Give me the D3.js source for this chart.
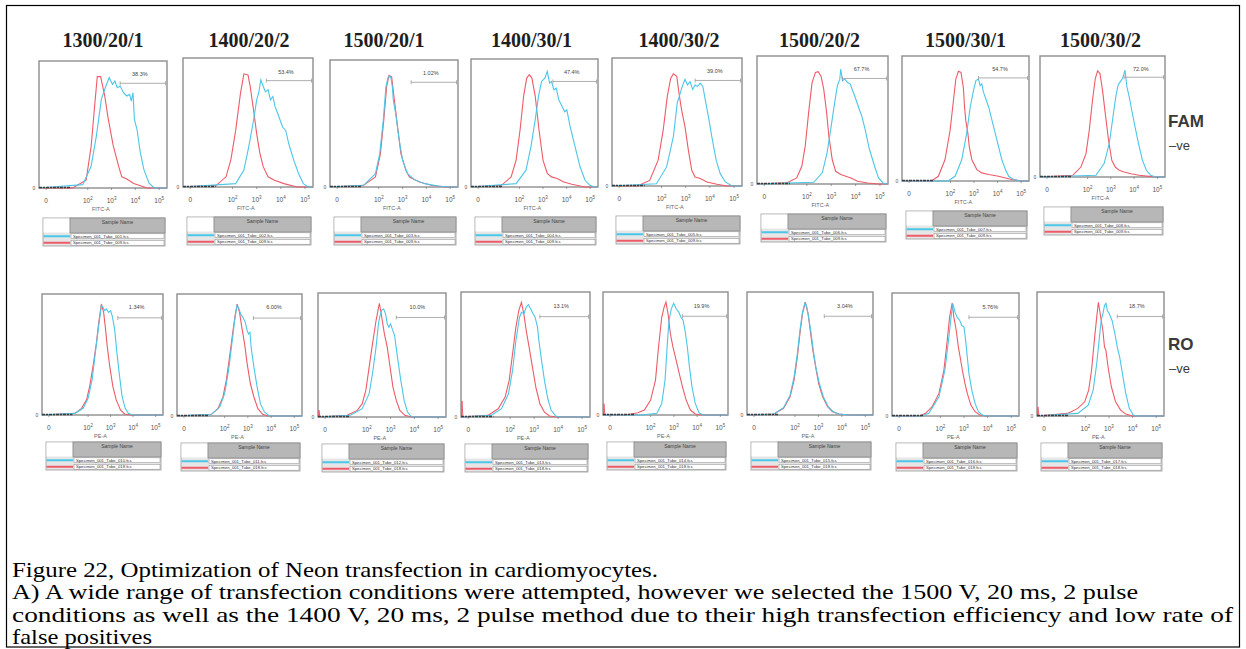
<!DOCTYPE html>
<html><head><meta charset="utf-8">
<script src="https://cdn.jsdelivr.net/npm/d3@7"></script>
<style>body{margin:0;background:#fff}svg{display:block}</style>
</head><body>
<svg id="c" width="1246" height="649"></svg>
<script>
// ---------------- DATA ----------------
const conditions = ["1300/20/1","1400/20/2","1500/20/1","1400/30/1","1400/30/2","1500/20/2","1500/30/1","1500/30/2"];
const famPct = ["38.3%","53.4%","1.02%","47.4%","39.0%","67.7%","54.7%","72.0%"];
const roPct  = ["1.34%","6.00%","10.0%","13.1%","19.9%","3.04%","5.76%","18.7%"];
const famGateStart = [3.36,3.40,3.36,3.42,3.39,3.46,3.19,3.57];
const roGateStart  = [3.32,3.24,3.24,3.24,3.37,3.25,3.21,3.35];
const famTubes = ["001","002","003","004","005","006","007","008"];
const famControl = "009";
const roTubes = ["010","011","012","013","014","015","016","017"];
const roControl = "018";
const tickPos = [0.25,2,3,4,5];
const tickExp = [null,2,3,4,5];
const rowMarkers = [["FAM","–ve"],["RO","–ve"]];
const captionLines = [
  "Figure 22, Optimization of Neon transfection in cardiomyocytes.",
  "A) A wide range of transfection conditions were attempted, however we selected the 1500 V, 20 ms, 2 pulse",
  "conditions as well as the 1400 V, 20 ms, 2 pulse method due to their high transfection efficiency and low rate of",
  "false positives"
];
// histograms: [log-decade position, relative count]
const famRed = [
 [[1.36,0],[1.93,7],[2.14,37],[2.29,74],[2.4,100],[2.54,100],[2.71,83],[2.86,62],[3.07,38],[3.29,20],[3.43,10],[3.64,8],[3.93,4],[4.5,0]],
 [[1.33,1.5],[1.73,9],[1.93,24],[2.13,50],[2.33,83],[2.47,100],[2.64,99],[2.73,89],[2.87,68],[3,47],[3.13,30],[3.27,18],[3.47,9],[3.73,6],[4.13,3],[4.67,0]],
 [[1.36,1.5],[1.86,9],[2.07,30],[2.21,60],[2.33,90],[2.43,100],[2.54,99],[2.64,81],[2.79,54],[2.93,30],[3.14,15],[3.29,9],[3.43,7.5],[3.71,4.5],[4.21,1.5],[4.79,0]],
 [[1.24,1.5],[1.65,9],[1.86,24],[2.03,51],[2.18,81],[2.31,97],[2.42,100],[2.53,97],[2.67,81],[2.83,51],[3,24],[3.18,12],[3.36,9],[3.6,7.5],[3.88,4.5],[4.22,2.4],[4.78,0]],
 [[1.0,0],[1.51,5],[1.86,23],[2.07,50],[2.24,80],[2.38,96],[2.49,100],[2.63,97.6],[2.74,80],[2.83,67.8],[2.97,52.8],[3.11,32],[3.25,14],[3.39,8],[3.6,6.6],[3.88,3.6],[4.29,1.5],[4.71,0]],
 [[1.17,1],[1.58,5.4],[1.79,15.8],[1.93,33.7],[2.07,63.6],[2.21,90],[2.35,99.4],[2.46,100],[2.58,96],[2.69,84.5],[2.81,63.6],[2.9,42.7],[3.04,21.8],[3.18,11.3],[3.39,8.4],[3.6,6.9],[3.81,5.4],[4.08,2.4],[4.5,0.9],[4.92,0]],
 [[1.2,0],[1.49,4.3],[1.77,19.4],[1.99,46.5],[2.13,73.6],[2.23,93],[2.34,100],[2.45,99],[2.55,85],[2.6,67.5],[2.65,55.5],[2.74,43.5],[2.8,31.4],[2.91,19.4],[3.12,10.4],[3.33,7.4],[3.62,6],[4.04,4.4],[4.6,1.4],[5.02,0]],
 [[1.36,1.6],[1.71,9.4],[1.93,22],[2.07,44],[2.21,72.3],[2.33,92.8],[2.43,100],[2.53,97.5],[2.64,81.8],[2.76,59.7],[2.9,34.6],[3.04,15.7],[3.19,9.4],[3.36,6.3],[3.57,4.7],[3.86,3.1],[4.21,1.6],[4.64,0.6],[4.93,0]]
];
const famCyan = [
 [[1.79,3],[2.14,19.5],[2.36,46.5],[2.57,79.6],[2.76,91.6],[2.9,99],[3.04,93],[3.14,96],[3.24,90],[3.36,91.6],[3.5,85.6],[3.64,82.6],[3.76,84],[3.83,78],[3.9,85.6],[3.96,61.6],[4.07,52.5],[4.21,31.5],[4.36,16.5],[4.57,4.5],[4.79,0]],
 [[2.13,3],[2.47,15],[2.67,35.5],[2.87,59],[3,77],[3.09,84],[3.17,94.7],[3.27,89],[3.36,84],[3.47,86],[3.57,77],[3.67,80],[3.76,71],[3.87,65],[4.07,53],[4.2,50],[4.33,38],[4.53,24],[4.73,12],[4.93,3],[5.13,0]],
 [[1.36,1.5],[1.86,12],[2.04,30],[2.19,60],[2.3,90],[2.39,98.5],[2.5,99],[2.57,90],[2.61,78],[2.71,66],[2.86,42],[3,24],[3.21,12],[3.5,6.6],[3.93,3],[4.5,0.9],[4.93,0]],
 [[1.86,3],[2.28,15],[2.49,36],[2.67,60],[2.81,81],[2.94,94],[3.08,97],[3.18,103],[3.28,92.5],[3.36,94],[3.46,86.6],[3.56,88],[3.67,77.6],[3.81,71.6],[3.92,67],[4.01,68.7],[4.15,53.7],[4.36,35.8],[4.57,18],[4.78,6],[4.99,1.5],[5.19,0]],
 [[1.79,2],[2.21,17],[2.49,44],[2.65,74],[2.74,80],[2.83,87],[2.97,95],[3.07,90],[3.18,93],[3.29,86],[3.39,90],[3.49,88.7],[3.6,91.6],[3.71,88.7],[3.81,76.7],[3.94,61.8],[4.08,44],[4.26,23],[4.43,11],[4.64,3.6],[4.92,0]],
 [[2.28,1.5],[2.63,10],[2.83,28],[3,52],[3.14,72.5],[3.25,87.5],[3.35,93.4],[3.39,102.4],[3.46,92],[3.56,93.4],[3.67,90.4],[3.78,89],[3.88,83],[4.01,75.5],[4.15,66.6],[4.25,60.6],[4.39,48.7],[4.57,30.7],[4.78,15.8],[4.94,5.4],[5.13,0.9],[5.3,0]],
 [[1.9,0],[2.2,4.3],[2.48,19.4],[2.69,43.5],[2.84,67.5],[2.98,82.6],[3.08,91.6],[3.19,93],[3.26,87],[3.33,88.6],[3.4,81],[3.5,75],[3.62,67.5],[3.76,55.5],[3.9,43.5],[4.04,31.4],[4.18,19.4],[4.33,10.4],[4.47,4.3],[4.68,1.4],[4.97,0]],
 [[2.36,1.6],[2.71,12.6],[2.93,31.4],[3.07,53.5],[3.21,75.5],[3.31,86.5],[3.4,89.6],[3.5,92.8],[3.57,97.5],[3.61,100.6],[3.69,84.9],[3.79,75.5],[3.9,62.9],[4.04,47.2],[4.19,31.4],[4.36,15.7],[4.53,6.3],[4.71,1.6],[4.93,0]]
];
const roRed = [
 [[1.41,1.5],[1.71,6],[1.93,13.6],[2.07,25.8],[2.22,44],[2.37,65],[2.47,83],[2.59,100],[2.69,92.4],[2.76,80.3],[2.85,62],[2.96,44],[3.1,25.8],[3.25,13.6],[3.44,4.5],[3.62,0.9],[3.91,0]],
 [[1.43,1.5],[1.71,6.5],[1.93,17],[2.07,31.8],[2.21,52.5],[2.36,76.3],[2.46,91],[2.54,100],[2.64,92.6],[2.74,79.2],[2.86,64.4],[2.97,46.6],[3.11,28.8],[3.26,17],[3.43,6.5],[3.64,1.5],[3.86,0]],
 [[1.17,1.5],[1.6,5.8],[1.81,11.7],[1.96,23.4],[2.1,43.9],[2.24,64.3],[2.39,84.8],[2.53,100],[2.63,87.7],[2.74,73.1],[2.86,61.4],[2.96,46.8],[3.1,26.3],[3.24,14.6],[3.39,5.8],[3.6,1.5],[3.89,0]],
 [[1.07,1.4],[1.5,7.2],[1.79,17.4],[1.96,31.9],[2.1,55],[2.24,78.3],[2.36,92.8],[2.47,100],[2.57,89.9],[2.67,75.4],[2.79,60.9],[2.93,43.5],[3.07,26.1],[3.24,11.6],[3.43,4.3],[3.64,0.9],[3.93,0]],
 [[0.9,0],[1.45,2],[1.73,4.4],[2,13.2],[2.21,30.9],[2.34,60.3],[2.48,86.8],[2.58,95.6],[2.66,100],[2.75,89.7],[2.85,72],[2.96,60.3],[3.1,48.5],[3.23,36.8],[3.37,25],[3.53,13.2],[3.71,4.4],[3.92,0.9],[4.19,0]],
 [[1.1,0.9],[1.51,5.9],[1.79,16.2],[1.96,30.9],[2.1,51.5],[2.21,72],[2.32,89.7],[2.44,100],[2.56,89.7],[2.65,75],[2.76,57.4],[2.88,42.6],[3.01,27.9],[3.18,16.2],[3.39,7.4],[3.6,2.9],[3.88,0.9],[4.29,0]],
 [[1.1,0],[1.37,2.4],[1.65,8.2],[1.94,20],[2.15,40.6],[2.29,67],[2.39,87.6],[2.5,100],[2.57,87.6],[2.67,76],[2.76,61.2],[2.86,49.4],[2.93,40.6],[3.04,28.9],[3.14,20],[3.29,9.7],[3.47,3.8],[3.67,0.9],[3.92,0]],
 [[1.25,2.3],[1.68,6.7],[1.97,12.5],[2.14,22.7],[2.26,40.2],[2.38,66.5],[2.48,86.9],[2.55,100],[2.65,86.9],[2.74,75.2],[2.81,60.6],[2.87,57.7],[2.96,43.1],[3.1,25.7],[3.28,12.5],[3.49,5.2],[3.71,1.7],[4,0]]
];
const roCyan = [
 [[1.41,1.5],[1.78,6],[2,15],[2.18,31.8],[2.32,56],[2.47,80.3],[2.59,98.5],[2.66,97],[2.74,94],[2.81,95.5],[2.91,92.4],[3,94],[3.07,89.4],[3.18,77.3],[3.28,56],[3.4,34.8],[3.51,16.7],[3.65,6],[3.79,1.5],[3.99,0]],
 [[1.43,1.5],[1.79,8],[2,19.9],[2.17,40.7],[2.31,64.4],[2.43,85.2],[2.53,98.5],[2.6,97],[2.69,91],[2.79,88],[2.89,83.7],[2.97,76.3],[3.03,73.3],[3.09,74.8],[3.14,61.4],[3.26,43.6],[3.4,25.8],[3.54,11],[3.71,3.6],[3.93,0]],
 [[1.31,1.5],[1.81,7.3],[2.1,20.5],[2.24,38],[2.39,61.4],[2.49,81.9],[2.57,90.6],[2.64,94.2],[2.71,95],[2.79,90.6],[2.86,81.9],[2.93,78.9],[3,81.9],[3.07,77.5],[3.17,71.6],[3.29,52.6],[3.43,32.2],[3.57,14.6],[3.71,4.4],[3.89,0]],
 [[1.21,1.4],[1.64,7.2],[1.93,20.3],[2.1,40.6],[2.24,66.7],[2.39,87],[2.47,91.3],[2.57,89.9],[2.67,95.7],[2.76,98],[2.86,94.2],[2.96,89.9],[3.04,87],[3.14,78.3],[3.19,68.1],[3.29,52.2],[3.43,31.9],[3.57,15.9],[3.71,5.8],[3.9,0.9],[4.07,0]],
 [[1.6,0],[2.27,1.5],[2.48,10.3],[2.62,30.9],[2.71,60.3],[2.79,83.8],[2.89,94.1],[2.99,99],[3.1,94.1],[3.21,91.2],[3.3,86.8],[3.4,83.8],[3.48,75],[3.58,60.3],[3.67,42.6],[3.78,25],[3.92,10.3],[4.08,2],[4.26,0]],
 [[1.1,0.9],[1.51,6.5],[1.79,17.6],[1.96,33.8],[2.1,54.4],[2.21,75],[2.32,91.2],[2.42,99],[2.49,97],[2.58,86.8],[2.68,73.5],[2.79,55.9],[2.9,41.2],[3.04,27.9],[3.21,16.2],[3.42,7.4],[3.63,2.9],[3.88,0.9],[4.29,0]],
 [[1.2,0],[1.51,2.4],[1.94,17],[2.19,40.6],[2.36,70],[2.47,90.6],[2.53,99.4],[2.62,92],[2.71,87.6],[2.82,84.7],[2.9,80.3],[3,78.8],[3.07,67],[3.14,52.3],[3.21,37.6],[3.33,22.9],[3.47,11.2],[3.61,3.8],[3.78,0.9],[3.99,0]],
 [[1.68,2.3],[2.12,9.6],[2.33,22.7],[2.48,46.1],[2.58,66.5],[2.67,84],[2.74,89.8],[2.81,97.1],[2.87,99.1],[2.93,92.7],[3.01,89.8],[3.13,84],[3.25,72.3],[3.35,60.6],[3.45,51.9],[3.57,37.3],[3.71,19.8],[3.86,6.7],[4.03,0.9],[4.22,0]]
];
const roSpike = [0,0,6,14,10,0,0,8];

// ---------------- LAYOUT ----------------
const famBoxes = [[39,61,167,188],[183,58,313,187],[330,60,458,187],[471,59,598,187],[612,58,742,186],[757,56,888,184],[902,56,1029,181],[1040,56,1165,177]];
const roBoxes  = [[42,294,163,415],[177,294,302,416],[318,293,446,417],[461,292,590,417],[603,292,728,415],[747,292,873,415],[892,293,1019,416],[1037,292,1164,416]];
const titleDx = [0,1,-10,-3,2,-3,0,-2];
const captionBase = [577,599,622,644];
const captionWidth = [646,1126,1221,140];
const CYAN = "#4cc6e8", RED = "#ee5b68";
const XD = [-0.05, 5.33];
const SANS = "'Liberation Sans', Arial, sans-serif";
const SERIF = "'Liberation Serif', 'Times New Roman', serif";

const svg = d3.select("#c");
svg.append("rect").attr("width",1246).attr("height",649).attr("fill","#fff");
svg.append("rect").attr("x",6.5).attr("y",5.5).attr("width",1233).attr("height",641.5)
   .attr("fill","none").attr("stroke","#000").attr("stroke-width",1.2);
const defs = svg.append("defs");

function drawPanel(idx, box, red, cyan, gStart, pct, cfg, tube, spike) {
  const [L,T,R,B] = box;
  const x = d3.scaleLinear().domain(XD).range([L,R]);
  const y = d3.scaleLinear().domain([0,cfg.yMax]).range([B,T]);
  const id = "clip"+cfg.key+idx;
  defs.append("clipPath").attr("id",id).append("rect").attr("x",L).attr("y",T).attr("width",R-L).attr("height",B-T+1);
  const g = svg.append("g");
  g.append("rect").attr("x",L).attr("y",T).attr("width",R-L).attr("height",B-T)
    .attr("fill","#fff").attr("stroke","#8e8e8e").attr("stroke-width",1.4);
  const line = d3.line().x(d=>x(d[0])).y(d=>y(d[1]));
  const ext = d => [[XD[0],0]].concat(d,[[XD[1],0]]);
  const cg = g.append("g").attr("clip-path","url(#"+id+")");
  cg.append("path").attr("d",line(ext(red))).attr("fill","none").attr("stroke",RED).attr("stroke-width",1.1);
  cg.append("path").attr("d",line(ext(cyan))).attr("fill","none").attr("stroke",CYAN).attr("stroke-width",1.1);
  if (spike) {
    cg.append("path").attr("d",line([[XD[0]+0.02,0],[XD[0]+0.04,spike],[XD[0]+0.08,0]]))
      .attr("fill","none").attr("stroke",RED).attr("stroke-width",1);
  }
  g.append("line").attr("x1",x(XD[0])).attr("x2",x(1.3)).attr("y1",B-0.5).attr("y2",B-0.5)
    .attr("stroke","#3c3c3c").attr("stroke-width",1.6).attr("stroke-dasharray","3,1,2,1");
  const gy = y(cfg.gateH), gx1 = x(gStart), gx2 = R-1.5;
  g.append("line").attr("x1",gx1).attr("x2",gx2).attr("y1",gy).attr("y2",gy).attr("stroke","#9a9a9a").attr("stroke-width",0.8);
  [gx1,gx2].forEach(v=>g.append("line").attr("x1",v).attr("x2",v).attr("y1",gy-2).attr("y2",gy+2).attr("stroke","#9a9a9a").attr("stroke-width",0.8));
  g.append("text").attr("x",(gx1+gx2)/2 - 3).attr("y",y(cfg.labelH)+2).attr("text-anchor","middle")
    .attr("font-family",SANS).attr("font-size",5.5).attr("fill","#444").text(pct);
  tickPos.forEach((v,k)=>{
    g.append("line").attr("x1",x(v)).attr("x2",x(v)).attr("y1",B).attr("y2",B+2).attr("stroke","#777").attr("stroke-width",0.7);
    const t = g.append("text").attr("x",x(v)).attr("y",B+15).attr("text-anchor","middle")
      .attr("font-family",SANS).attr("font-size",6.5).attr("fill","#555");
    if (tickExp[k]===null) t.text("0");
    else { t.append("tspan").text("10"); t.append("tspan").attr("dy",-3).attr("font-size",4.5).text(tickExp[k]); }
  });
  g.append("text").attr("x",x(2.55)).attr("y",B+23).attr("text-anchor","middle")
    .attr("font-family",SANS).attr("font-size",5.5).attr("fill","#666").text(cfg.axis);
  g.append("text").attr("x",L-5).attr("y",B+2).attr("text-anchor","middle")
    .attr("font-family",SANS).attr("font-size",5).attr("fill","#555").text("0");
  const tx = L+4, tw = R-L-6, ty = B+cfg.tableOff, lw = 27, hh = 15, rh = 6.5;
  g.append("rect").attr("x",tx).attr("y",ty).attr("width",tw).attr("height",hh+2*rh)
    .attr("fill","#e6e6e6").attr("stroke","#9a9a9a").attr("stroke-width",0.8);
  g.append("rect").attr("x",tx+0.5).attr("y",ty+0.5).attr("width",lw-1).attr("height",hh-1).attr("fill","#fff");
  g.append("rect").attr("x",tx+lw).attr("y",ty).attr("width",tw-lw).attr("height",hh)
    .attr("fill","#b7b7b7").attr("stroke","#8a8a8a").attr("stroke-width",0.8);
  g.append("text").attr("x",tx+lw+(tw-lw)/2).attr("y",ty+5.5).attr("text-anchor","middle")
    .attr("font-family",SANS).attr("font-size",5).attr("fill","#444").text("Sample Name");
  [[CYAN,tube],[RED,cfg.control]].forEach(([col,tb],k)=>{
    const ry = ty+hh+k*rh;
    g.append("rect").attr("x",tx+lw+1).attr("y",ry+0.8).attr("width",tw-lw-2).attr("height",rh-1.6)
      .attr("fill","#fff").attr("stroke","#888").attr("stroke-width",0.5);
    g.append("line").attr("x1",tx+0.5).attr("x2",tx+lw).attr("y1",ry+rh/2).attr("y2",ry+rh/2)
      .attr("stroke",col).attr("stroke-width",2);
    g.append("text").attr("x",tx+lw+3).attr("y",ry+rh-1.6)
      .attr("font-family",SANS).attr("font-size",4.2).attr("fill","#333")
      .text("Specimen_001_Tube_"+tb+".fcs");
  });
}

const famCfg = {key:"f", yMax:114, gateH:94, labelH:102, axis:"FITC-A", control:famControl, tableOff:30};
const roCfg  = {key:"r", yMax:109, gateH:87.5, labelH:97, axis:"PE-A", control:roControl, tableOff:27};
famBoxes.forEach((b,i)=>drawPanel(i,b,famRed[i],famCyan[i],famGateStart[i],famPct[i],famCfg,famTubes[i],0));
roBoxes.forEach((b,i)=>drawPanel(i,b,roRed[i],roCyan[i],roGateStart[i],roPct[i],roCfg,roTubes[i],roSpike[i]));

conditions.forEach((c,i)=>{
  const b = famBoxes[i];
  svg.append("text").attr("x",(b[0]+b[2])/2 + titleDx[i]).attr("y",47).attr("text-anchor","middle")
    .attr("font-family",SERIF).attr("font-weight","bold")
    .attr("font-size",20).attr("fill","#1e1e1e").text(c);
});
[[127,150],[350,373]].forEach((p,i)=>{
  svg.append("text").attr("x",1168).attr("y",p[0]).attr("font-family",SANS)
    .attr("font-weight","bold").attr("font-size",17).attr("fill","#3a3a3a").text(rowMarkers[i][0]);
  svg.append("text").attr("x",1169).attr("y",p[1]).attr("font-family",SANS)
    .attr("font-size",13).attr("fill","#3a3a3a").text(rowMarkers[i][1]);
});
captionLines.forEach((t,i)=>{
  svg.append("text").attr("x",12).attr("y",captionBase[i])
    .attr("font-family",SERIF).attr("font-size",21).attr("fill","#000")
    .attr("textLength",captionWidth[i]).attr("lengthAdjust","spacingAndGlyphs").text(t);
});
</script>
</body></html>
